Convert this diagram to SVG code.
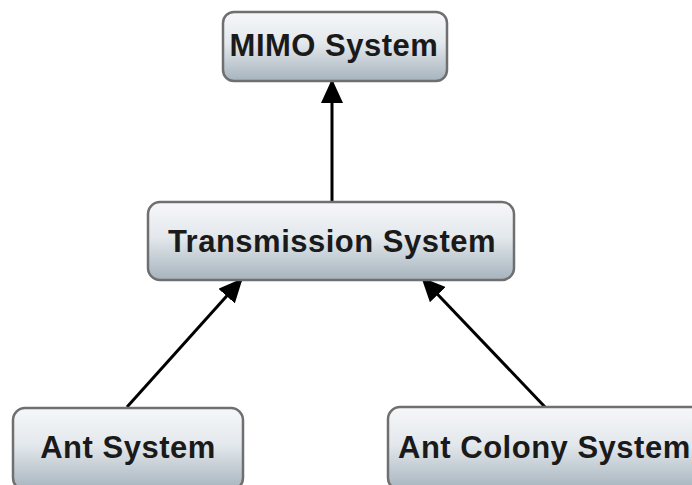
<svg xmlns="http://www.w3.org/2000/svg" width="692" height="485" viewBox="0 0 692 485">
  <defs>
    <linearGradient id="nodeFill" x1="0" y1="0" x2="0" y2="1">
      <stop offset="0" stop-color="#f6f7f9"/>
      <stop offset="0.45" stop-color="#e3e8ec"/>
      <stop offset="1" stop-color="#a6b3bd"/>
    </linearGradient>
    <marker id="arrowHead" viewBox="0 0 24 22" refX="23" refY="11" markerWidth="24" markerHeight="22" markerUnits="userSpaceOnUse" orient="auto">
      <path d="M0,0 L24,11 L0,22 Z" fill="#000"/>
    </marker>
  </defs>
  <style>
    .box { fill: url(#nodeFill); stroke: #6f6f6f; stroke-width: 2.5; }
    .label { font-family: "Liberation Sans", Arial, sans-serif; font-weight: bold; font-size: 31px; letter-spacing: 0.5px; fill: #1a1a1a; }
    .edge { stroke: #000; stroke-width: 3; fill: none; marker-end: url(#arrowHead); }
  </style>
  <rect width="692" height="485" fill="#fff"/>

  <g id="connectors">
    <line class="edge" x1="332" y1="201" x2="332" y2="80"/>
    <line class="edge" x1="127" y1="407" x2="242" y2="279"/>
    <line class="edge" x1="545" y1="407" x2="422" y2="278"/>
  </g>

  <g id="mimo-system">
    <rect class="box" x="223" y="12" width="224" height="69" rx="11"/>
    <text class="label" x="334" y="56" text-anchor="middle">MIMO System</text>
  </g>

  <g id="transmission-system">
    <rect class="box" x="148" y="202" width="366" height="78" rx="12"/>
    <text class="label" x="332" y="252" text-anchor="middle">Transmission System</text>
  </g>

  <g id="ant-system">
    <rect class="box" x="13" y="408" width="230" height="82" rx="12"/>
    <text class="label" x="128" y="458" text-anchor="middle">Ant System</text>
  </g>

  <g id="ant-colony-system">
    <rect class="box" x="388" y="407" width="320" height="83" rx="12"/>
    <text class="label" x="398" y="458">Ant Colony System</text>
  </g>
</svg>
